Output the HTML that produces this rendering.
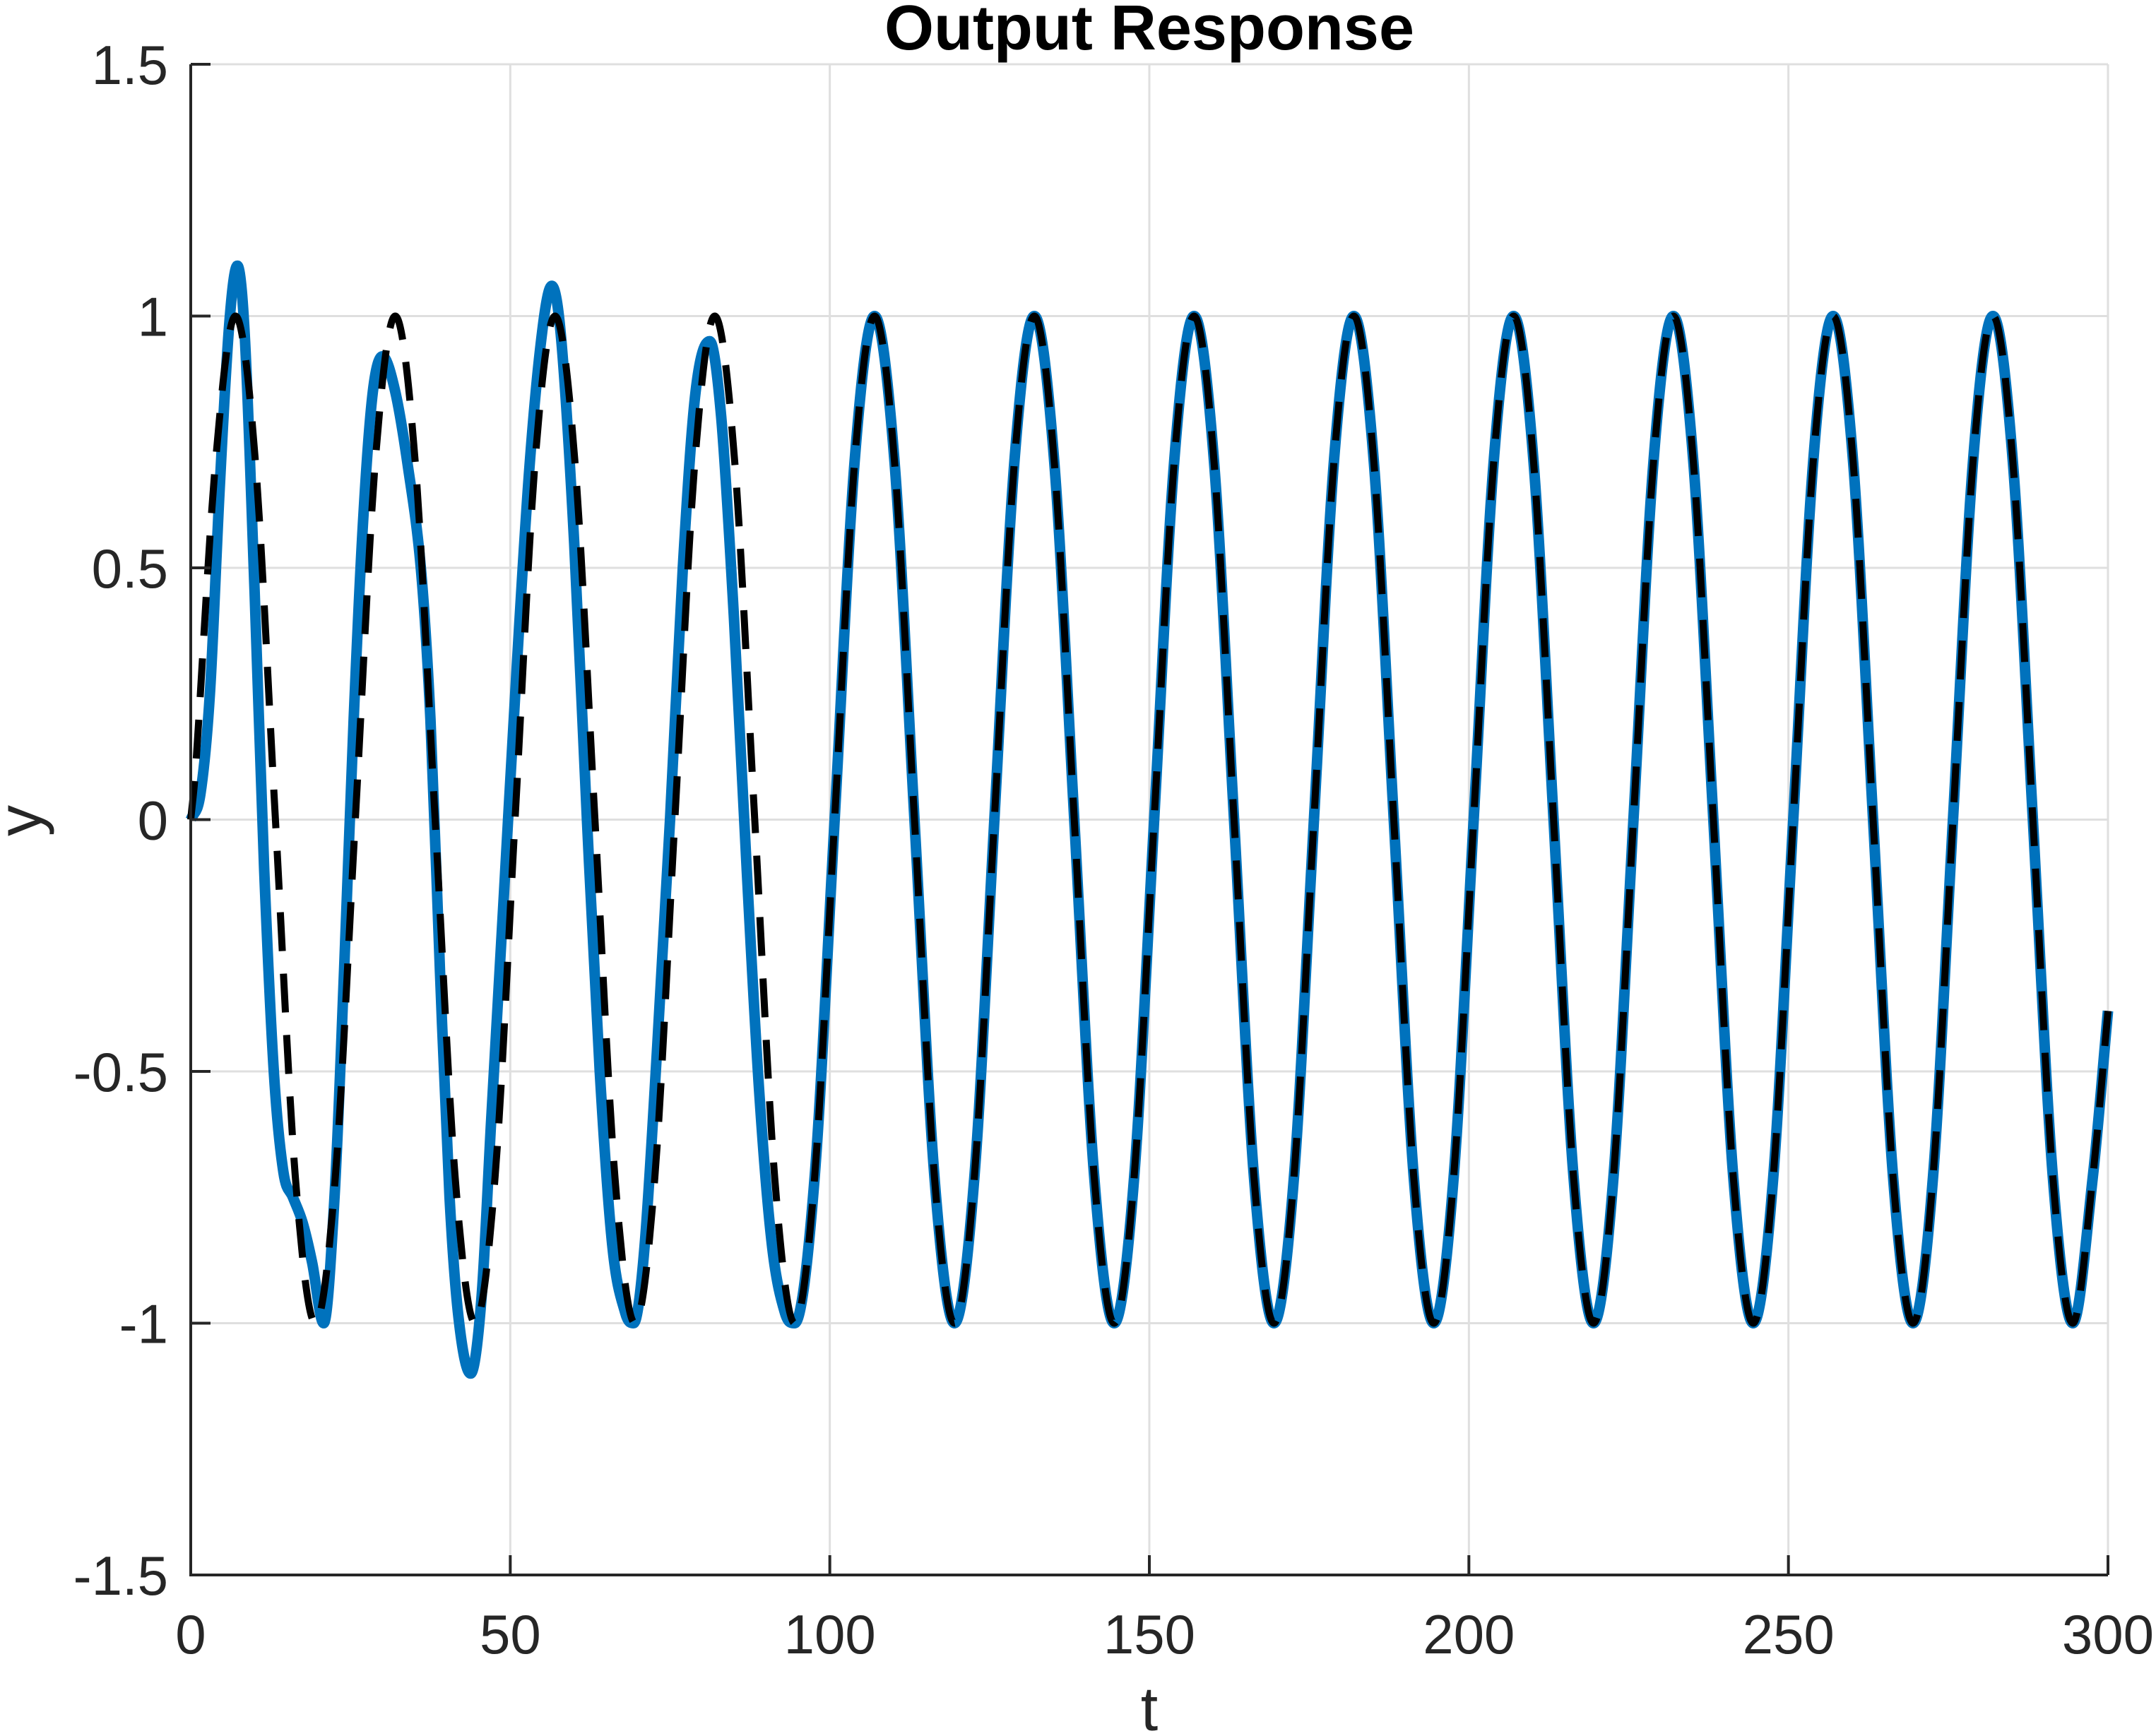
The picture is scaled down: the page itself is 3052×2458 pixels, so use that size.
<!DOCTYPE html>
<html><head><meta charset="utf-8"><style>
html,body{margin:0;padding:0;background:#fff;}
svg text{font-family:"Liberation Sans",sans-serif;fill:#262626;}
</style></head><body>
<svg id="chart" width="3052" height="2453" viewBox="0 0 3052 2453" xmlns="http://www.w3.org/2000/svg">
<rect width="3052" height="2453" fill="#fff"/>
<g id="grid"></g>
<g id="series"></g>
<g id="axes"></g>
<text x="1627" y="70" text-anchor="middle" font-size="90" font-weight="bold" style="fill:#000">Output Response</text>
<text x="1627" y="2450" text-anchor="middle" font-size="88">t</text>
<text transform="translate(58,1162) rotate(-90)" text-anchor="middle" font-size="88">y</text>
</svg>
<script>
const xTicks = [0,50,100,150,200,250,300];
const yTicks = [-1.5,-1,-0.5,0,0.5,1,1.5];
const yTickLabels = ["-1.5","-1","-0.5","0","0.5","1","1.5"];
const refT = [0,0.75,3.875,7,10.125,13.25,16.375,19.5,22.625,
25.75,28.875,32,35.125,38.25,41.375,44.5,47.625,
50.75,53.875,57,60.125,63.25,66.375,69.5,72.625,
75.75,78.875,82,85.125,88.25,91.375,94.5,97.625,
100.75,103.875,107,110.125,113.25,116.375,119.5,122.625,
125.75,128.875,132,135.125,138.25,141.375,144.5,147.625,
150.75,153.875,157,160.125,163.25,166.375,169.5,172.625,
175.75,178.875,182,185.125,188.25,191.375,194.5,197.625,
200.75,203.875,207,210.125,213.25,216.375,219.5,222.625,
225.75,228.875,232,235.125,238.25,241.375,244.5,247.625,
250.75,253.875,257,260.125,263.25,266.375,269.5,272.625,
275.75,278.875,282,285.125,288.25,291.375,294.5,297.625,300];
const refY = [0,0.1,0.71,1,0.71,0,-0.71,-1,-0.71,
0,0.71,1,0.71,0,-0.71,-1,-0.71,
0,0.71,1,0.71,0,-0.71,-1,-0.71,
0,0.71,1,0.71,0,-0.71,-1,-0.71,
0,0.71,1,0.71,0,-0.71,-1,-0.71,
0,0.71,1,0.71,0,-0.71,-1,-0.71,
0,0.71,1,0.71,0,-0.71,-1,-0.71,
0,0.71,1,0.71,0,-0.71,-1,-0.71,
0,0.71,1,0.71,0,-0.71,-1,-0.71,
0,0.71,1,0.71,0,-0.71,-1,-0.71,
0,0.71,1,0.71,0,-0.71,-1,-0.71,
0,0.71,1,0.71,0,-0.71,-1,-0.71,-0.38];
const outTransientT = [0,1.5,3,4.5,6,7.3,8.5,10,11.5,13,14.5,16,17.5,19,20.8,22.5,24,25.5,27,28.5,30,32,34,36,37.5,39,40.5,42,43.8,45.5,47,49,51,53,55,56.5,58,60,62,64,66,68,69.3,71,73,75,77,79,81.2,83,85,87,89,91,93,94.5];
const outTransientY = [0,0.05,0.25,0.65,0.98,1.1,0.95,0.45,-0.1,-0.5,-0.7,-0.75,-0.8,-0.88,-1.0,-0.75,-0.3,0.2,0.6,0.85,0.92,0.85,0.7,0.5,0.2,-0.3,-0.75,-1.0,-1.1,-0.95,-0.6,-0.15,0.3,0.7,0.97,1.06,0.95,0.55,0,-0.5,-0.85,-0.98,-1.0,-0.85,-0.45,0,0.5,0.85,0.95,0.8,0.4,-0.1,-0.55,-0.85,-0.98,-1.0];
const steadyStart = 32;
const outT = outTransientT.concat(refT.slice(steadyStart));
const outY = outTransientY.concat(refY.slice(steadyStart));

const L=270, R=2984, T=91, B=2230;
const xs = v => L + (v-0)/(300-0)*(R-L);
const ys = v => B - (v+1.5)/3*(B-T);
const NS="http://www.w3.org/2000/svg";
function mk(tag, attrs, parent){const e=document.createElementNS(NS,tag);for(const k in attrs)e.setAttribute(k,attrs[k]);parent.appendChild(e);return e;}
const grid=document.getElementById('grid'), axes=document.getElementById('axes'), series=document.getElementById('series');

xTicks.forEach((v,i)=>{
  if(v>0){const g=mk('line',{x1:xs(v),x2:xs(v),y1:T,y2:B,stroke:'#dfdfdf','stroke-width':3},grid);
  
  }
  const t=mk('line',{x1:xs(v),x2:xs(v),y1:B,y2:B-28,stroke:'#262626','stroke-width':4},axes);
  
  
  const lb=mk('text',{x:xs(v),y:2341,'text-anchor':'middle','font-size':78},axes);
  lb.textContent=String(v);
  
  
});
yTicks.forEach((v,i)=>{
  if(v>-1.5){const g=mk('line',{x1:L,x2:R,y1:ys(v),y2:ys(v),stroke:'#dfdfdf','stroke-width':3},grid);
  
  }
  const t=mk('line',{x1:L,x2:L+28,y1:ys(v),y2:ys(v),stroke:'#262626','stroke-width':4},axes);
  
  
  const lb=mk('text',{x:238,y:ys(v)+28,'text-anchor':'end','font-size':78},axes);
  lb.textContent=yTickLabels[i];
  
  
});
const ax=mk('path',{d:`M${L},${T}V${B}H${R}`,fill:'none',stroke:'#262626','stroke-width':4},axes);



function smoothPath(tx,ty){
  const n=tx.length, m=[];
  for(let i=0;i<n;i++){
    const a=Math.max(0,i-1), b=Math.min(n-1,i+1);
    m.push((ty[b]-ty[a])/(tx[b]-tx[a]));
  }
  for(let i=1;i<n-1;i++){ if((ty[i]-ty[i-1])*(ty[i+1]-ty[i])<=0) m[i]=0; }
  let d=`M${xs(tx[0])},${ys(ty[0])}`;
  for(let i=0;i<n-1;i++){
    const h=tx[i+1]-tx[i];
    const c1t=tx[i]+h/3, c1y=ty[i]+m[i]*h/3;
    const c2t=tx[i+1]-h/3, c2y=ty[i+1]-m[i+1]*h/3;
    d+=`C${xs(c1t).toFixed(1)},${ys(c1y).toFixed(1)} ${xs(c2t).toFixed(1)},${ys(c2y).toFixed(1)} ${xs(tx[i+1]).toFixed(1)},${ys(ty[i+1]).toFixed(1)}`;
  }
  return d;
}
const blue=mk('path',{d:smoothPath(outT,outY),fill:'none',stroke:'#0072bd','stroke-width':15,'stroke-linejoin':'round'},series);


const ref=mk('path',{d:smoothPath(refT,refY),fill:'none',stroke:'#000','stroke-width':10,'stroke-dasharray':'55 32'},series);


</script>
</body></html>
